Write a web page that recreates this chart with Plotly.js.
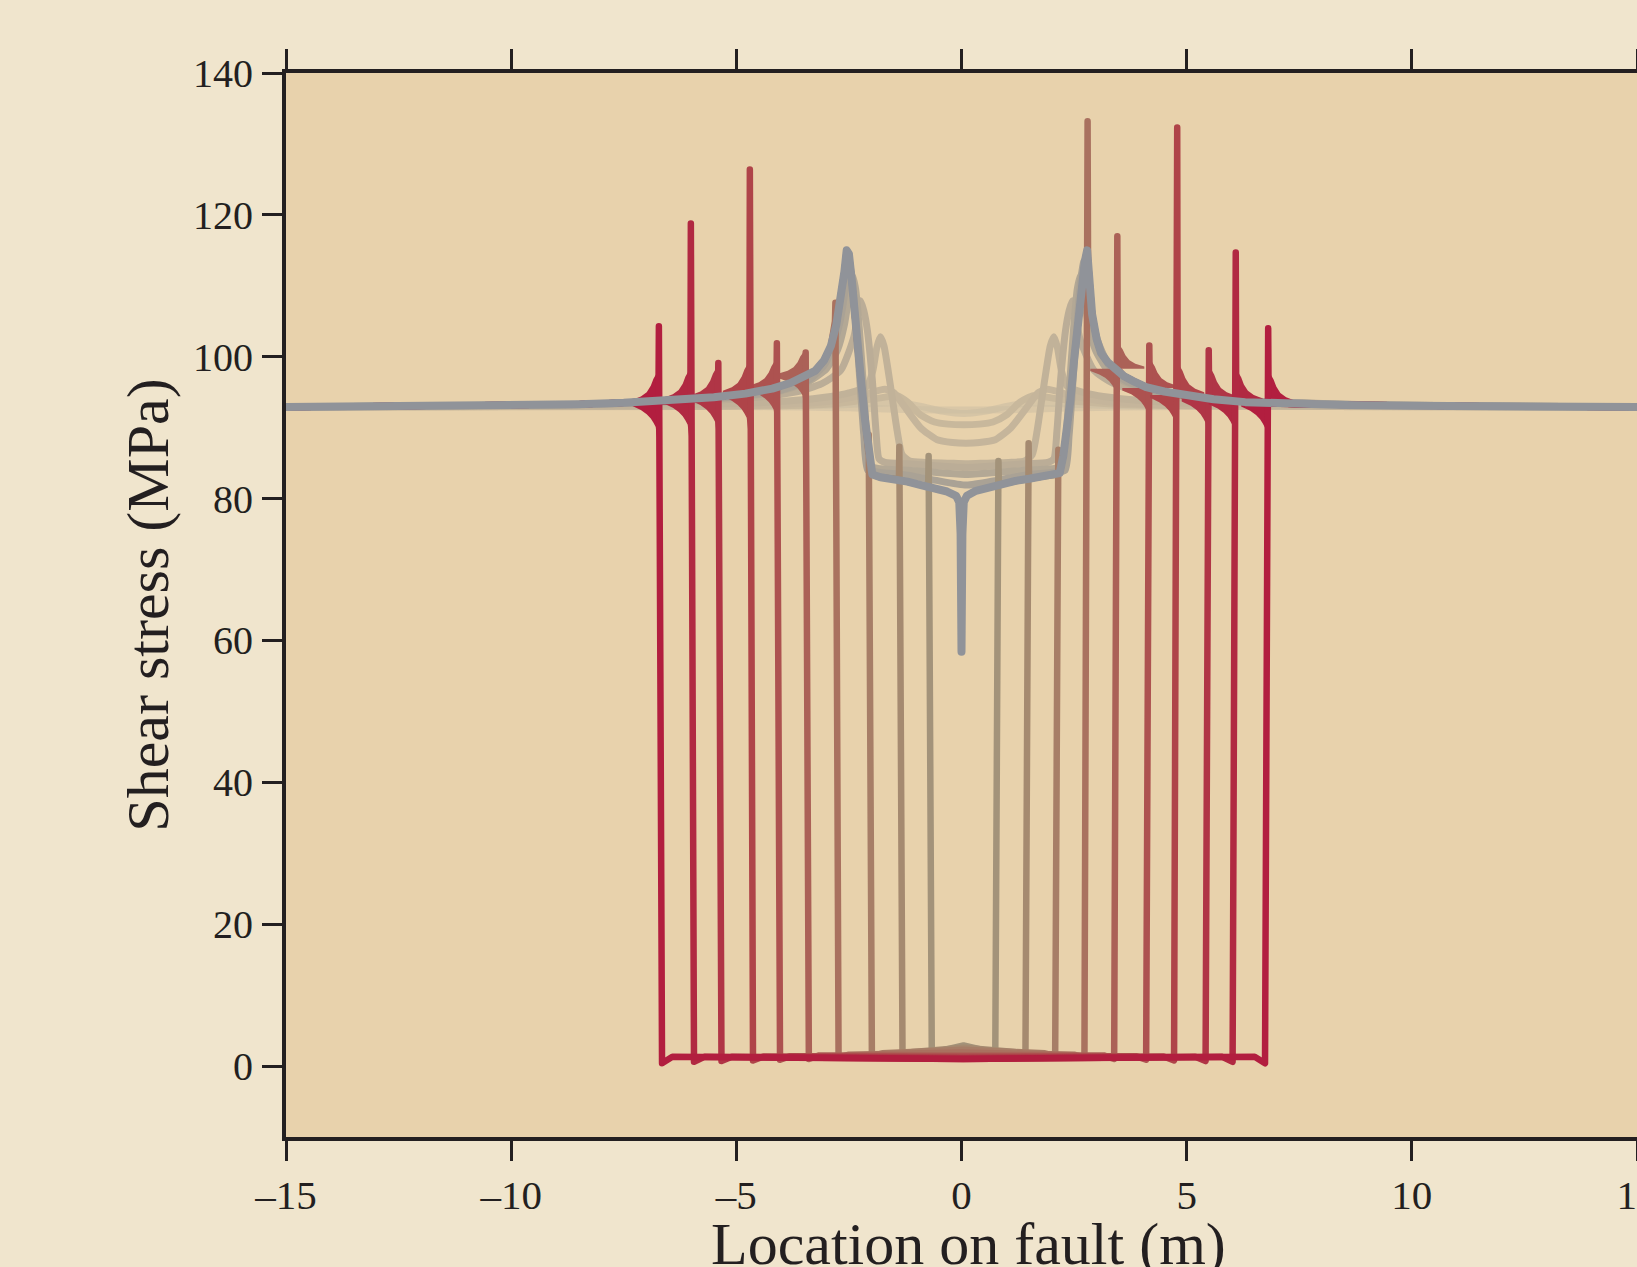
<!DOCTYPE html>
<html>
<head>
<meta charset="utf-8">
<script src="https://cdn.plot.ly/plotly-3.0.1.min.js"></script>
<style>
  html, body { margin: 0; padding: 0; background: #f0e5cd; }
  #chart { width: 1637px; height: 1267px; }
  path.js-line { stroke-linejoin: round; stroke-linecap: round; }
</style>
</head>
<body>
<div id="chart"></div>
<script>
// ---------------- data ----------------
const xTickVals = [-15, -10, -5, 0, 5, 10, 15];
const xTickText = ['\u201315', '\u201310', '\u20135', '0', '5', '10', '15'];
const yTickVals = [0, 20, 40, 60, 80, 100, 120, 140];
const xTitle = 'Location on fault (m)';
const yTitle = 'Shear stress (MPa)';

// final nucleation profile (thick grey curve)
const grayX = [-15, -12, -10, -8.5, -7.5, -6.5, -5.5, -4.8, -4.2, -3.8, -3.5, -3.25, -3.05, -2.9, -2.78, -2.68, -2.6, -2.55, -2.5, -2.44, -2.38, -2.3, -2.22, -2.14, -2.06, -1.98, -1.8, -1.5, -1.2, -0.9, -0.6, -0.32, -0.12, -0.05, -0.02, 0, 0.02, 0.05, 0.12, 0.32, 0.6, 0.9, 1.2, 1.5, 1.8, 2.05, 2.18, 2.26, 2.34, 2.42, 2.5, 2.58, 2.66, 2.74, 2.79, 2.84, 2.9, 3.0, 3.1, 3.25, 3.4, 3.6, 3.8, 4.1, 4.5, 4.9, 5.6, 6.3, 7.5, 8.5, 10, 12, 15];
const grayY = [92.9, 93.0, 93.1, 93.3, 93.5, 93.8, 94.3, 94.8, 95.5, 96.3, 97.1, 98.0, 99.5, 101.5, 104.5, 108, 112, 115, 114.5, 111, 106, 101, 96, 91, 86.5, 83.4, 83.0, 82.8, 82.4, 81.9, 81.5, 81.0, 80.4, 79.5, 75, 58.4, 75, 79.5, 80.4, 81.1, 81.6, 82.1, 82.5, 82.8, 83.1, 83.3, 83.6, 86, 89.5, 94, 99.5, 105, 109.5, 113.5, 115, 110.5, 106, 102.5, 100.5, 99.2, 98.3, 97.3, 96.6, 95.7, 95.1, 94.6, 94.0, 93.6, 93.3, 93.2, 93.1, 93.0, 92.9];

// earlier nucleation profiles (light tan curves)
const n1X = [-15, -8, -5, -3.5, -2.5, -1.5, -0.5, 0.5, 1.5, 2.5, 3.5, 5, 8, 15];
const n1Y = [92.9, 93.0, 93.0, 92.9, 92.8, 92.6, 92.5, 92.5, 92.6, 92.8, 92.9, 93.0, 93.0, 92.9];
const n2X = [-15, -8, -4, -2.8, -2, -1.4, -0.9, -0.4, 0.05, 0.5, 1, 1.5, 2.1, 2.9, 4, 8, 15];
const n2Y = [92.9, 93.0, 93.1, 93.2, 93.4, 93.5, 93.0, 92.3, 92.0, 92.3, 93.0, 93.5, 93.4, 93.2, 93.1, 93.0, 92.9];
const c1X = [-15, -6, -4, -3, -2.4, -1.8, -1.43, -1.2, -0.91, -0.6, -0.3, 0.05, 0.4, 0.7, 1.0, 1.3, 1.6, 2.0, 2.6, 3.5, 5, 8, 15];
const c1Y = [92.9, 93.0, 93.1, 93.3, 93.7, 94.2, 94.5, 93.6, 91.8, 90.8, 90.5, 90.4, 90.5, 90.8, 91.8, 93.6, 94.5, 94.2, 93.7, 93.3, 93.1, 93.0, 92.9];
const c2X = [-15, -8, -4.5, -3, -2.2, -1.7, -1.5, -1.28, -0.91, -0.54, -0.2, 0.1, 0.4, 0.75, 1.1, 1.48, 1.7, 1.9, 2.4, 3.2, 4.7, 8, 15];
const c2Y = [92.9, 93.0, 93.2, 93.7, 94.6, 95.4, 94.9, 93.1, 90.0, 88.3, 87.9, 87.8, 87.9, 88.3, 90.0, 93.1, 94.9, 95.4, 94.6, 93.7, 93.2, 93.0, 92.9];
const c3X = [-15, -8, -5, -3.8, -2.9, -2.5, -2.1, -1.97, -1.88, -1.8, -1.72, -1.64, -1.54, -1.43, -1.32, -1.15, -0.8, -0.3, 0.12, 0.55, 1.05, 1.4, 1.57, 1.68, 1.79, 1.89, 1.97, 2.05, 2.13, 2.22, 2.35, 2.75, 3.15, 4.05, 5.25, 8, 15];
const c3Y = [92.9, 93.1, 93.4, 93.8, 94.4, 94.9, 95.8, 98.0, 101.3, 102.8, 101.5, 98.5, 94.3, 89.6, 86.2, 85.3, 85.1, 85.0, 84.9, 85.0, 85.1, 85.3, 86.2, 89.6, 94.3, 98.5, 101.5, 102.8, 101.3, 98.0, 95.8, 94.9, 94.4, 93.8, 93.4, 93.1, 92.9];
const c4X = [-15, -9, -6.3, -4.7, -3.7, -3.1, -2.68, -2.39, -2.3, -2.24, -2.17, -2.09, -1.98, -1.9, -1.83, -1.7, -1.2, -0.5, 0.11, 0.7, 1.4, 1.92, 2.05, 2.12, 2.2, 2.31, 2.39, 2.46, 2.52, 2.64, 2.94, 3.38, 4.0, 5.0, 6.5, 9, 15];
const c4Y = [92.9, 93.2, 93.6, 94.2, 95.0, 96.2, 98.1, 102.8, 106.0, 107.9, 106.5, 103.7, 96.7, 89.6, 85.6, 85.1, 84.9, 84.6, 84.4, 84.6, 84.9, 85.1, 85.6, 89.6, 96.7, 103.7, 106.5, 107.9, 106.0, 102.3, 98.1, 96.2, 95.0, 94.2, 93.6, 93.2, 92.9];
const c5X = [-15, -9, -6.5, -5, -4, -3.4, -3.0, -2.75, -2.6, -2.5, -2.42, -2.35, -2.27, -2.18, -2.1, -2.02, -1.8, -1.2, -0.6, 0.11, 0.8, 1.4, 2.0, 2.24, 2.32, 2.4, 2.49, 2.57, 2.64, 2.72, 2.82, 2.97, 3.22, 3.62, 4.2, 5.2, 6.7, 9.2, 15];
const c5Y = [92.9, 93.2, 93.7, 94.3, 95.2, 96.5, 98.3, 101, 104.5, 108.5, 111.5, 109.5, 104, 96, 88.5, 84.6, 84.2, 84.0, 83.7, 83.4, 83.7, 84.0, 84.2, 84.6, 88.5, 96, 104, 109.5, 111.5, 108.5, 104.5, 101, 98.3, 96.5, 95.2, 94.3, 93.7, 93.2, 92.9];
const c6X = [-15, -9, -6.5, -5, -4, -3.4, -3.05, -2.82, -2.68, -2.58, -2.5, -2.43, -2.35, -2.26, -2.17, -2.08, -1.8, -1.2, -0.6, 0.11, 0.8, 1.4, 2.0, 2.3, 2.39, 2.48, 2.57, 2.65, 2.72, 2.8, 2.9, 3.04, 3.27, 3.62, 4.2, 5.2, 6.7, 9.2, 15];
const c6Y = [92.9, 93.2, 93.7, 94.4, 95.3, 96.7, 98.8, 102, 105.5, 109.5, 113.5, 111, 105, 97, 89, 84.0, 83.7, 83.3, 82.6, 81.9, 82.6, 83.3, 83.7, 84.0, 89, 97, 105, 111, 113.5, 109.5, 105.5, 102, 98.8, 96.7, 95.3, 94.4, 93.7, 93.2, 92.9];

// dynamic rupture snapshots (inner = early, outer = late)
const tipLeftX     = [-0.73, -1.38, -2.06, -2.80, -3.46, -4.10, -4.70, -5.40, -6.01, -6.72];
const tipLeftPeak  = [86.0, 87.3, 89.0, 107.6, 100.6, 101.9, 126.4, 99.1, 118.8, 104.3];
const tipLeftBase  = [81.7, 82.6, 86.5, 105.0, 97.3, 95.6, 94.8, 94.2, 93.8, 93.5];
const tipRightX    = [0.82, 1.49, 2.15, 2.80, 3.46, 4.17, 4.79, 5.49, 6.09, 6.81];
const tipRightPeak = [85.3, 87.8, 86.9, 133.2, 117.0, 101.6, 132.3, 100.9, 114.7, 104.0];
const tipRightBase = [82.0, 82.8, 83.5, 114.0, 98.3, 95.6, 94.6, 94.1, 93.7, 93.4];
const interiorEdge     = [1.8, 1.6, 1.4, 1.2, 1.0, 0.9, 0.8, 0.7, 0.6, 0.4];
const interiorShoulder = [2.2, 2.0, 1.8, 1.6, 1.5, 1.4, 1.35, 1.3, 1.3, 1.3];
const interiorCenter   = [2.9, 2.6, 2.3, 1.9, 1.6, 1.4, 1.2, 1.1, 1.0, 1.0];
const snapColors = ['#a3937a', '#a58a70', '#a77e67', '#a9715f', '#ab6157', '#ad5250', '#af4449', '#b03546', '#b12942', '#b21e3f'];

// shape of the stress wings next to each rupture tip (distance, rise, fall)
const wingD  = [0.6, 0.4, 0.27, 0.18, 0.12, 0.07, 0.03, 0.0];
const wingUp = [0.4, 0.9, 1.5, 2.4, 3.4, 4.0, 4.4, 4.5];
const wingDn = [0.4, 1.0, 1.6, 2.2, 2.8, 3.4, 5.6, 6.0];
const wingScale = [0, 0, 0, 0, 0.8, 0.9, 1, 1, 1, 1];

// ---------------- build traces ----------------
const traces = [];
function addLine(x, y, color, width, shape) {
  traces.push({type: 'scatter', mode: 'lines', x: x, y: y,
    line: {color: color, width: width, shape: shape || 'linear', smoothing: 0.6},
    hoverinfo: 'skip', showlegend: false});
}
function addWing(xTip, dir, base, amp, env, color) {
  const xs = [], ys = [];
  for (let j = 0; j < wingD.length; j++) { xs.push(xTip + dir * wingD[j]); ys.push(base + amp * env[j]); }
  for (let j = wingD.length - 1; j >= 0; j--) { xs.push(xTip + dir * wingD[j]); ys.push(base); }
  traces.push({type: 'scatter', mode: 'lines', x: xs, y: ys, fill: 'toself',
    fillcolor: color, line: {width: 0, color: color}, hoverinfo: 'skip', showlegend: false});
}

addLine(n1X, n1Y, 'rgba(204,190,164,0.55)', 7, 'spline');
addLine(n2X, n2Y, 'rgba(202,188,161,0.6)', 7, 'spline');
addLine(c1X, c1Y, '#c8b89c', 7, 'spline');
addLine(c2X, c2Y, '#c5b59b', 7, 'spline');
addLine(c3X, c3Y, '#c1b299', 7, 'spline');
addLine(c4X, c4Y, '#bbad97', 7, 'spline');
addLine(c5X, c5Y, '#b3a895', 7, 'spline');
addLine(c6X, c6Y, '#aaa295', 7, 'spline');

for (let k = 0; k < tipLeftX.length; k++) {
  const L = tipLeftX[k], R = tipRightX[k], col = snapColors[k], s = wingScale[k];
  if (s > 0) {
    addWing(L, -1, tipLeftBase[k], s, wingUp, col);
    addWing(L, -1, tipLeftBase[k], -s, wingDn, col);
    addWing(R, 1, tipRightBase[k], s, wingUp, col);
    addWing(R, -1, tipRightBase[k], -s, wingDn, col);
  }
  const xs = [], ys = [];
  for (let i = 0; i < grayX.length; i++) if (grayX[i] < L - 0.03) { xs.push(grayX[i]); ys.push(grayY[i]); }
  xs.push(L - 0.01, L, L + 0.07, L + 0.3, (L + R) / 2, R - 0.3, R - 0.07, R, R + 0.01);
  ys.push(tipLeftBase[k], tipLeftPeak[k], interiorEdge[k], interiorShoulder[k], interiorCenter[k],
          interiorShoulder[k], interiorEdge[k], tipRightPeak[k], tipRightBase[k]);
  for (let i = 0; i < grayX.length; i++) if (grayX[i] > R + 0.03) { xs.push(grayX[i]); ys.push(grayY[i]); }
  addLine(xs, ys, col, 6.5);
}

addLine(grayX, grayY, '#909399', 8);

// ---------------- layout ----------------
const ink = '#231f20';
const serif = 'Liberation Serif, Times New Roman, serif';
const layout = {
  width: 1637, height: 1267,
  paper_bgcolor: '#f0e5cd', plot_bgcolor: '#e8d2ac',
  margin: {l: 286, r: 0, t: 73, b: 130, pad: 0},
  showlegend: false,
  xaxis: {
    range: [-15, 15], tickmode: 'array', tickvals: xTickVals, ticktext: xTickText,
    ticks: 'outside', ticklen: 20, tickwidth: 3, tickcolor: ink,
    showline: true, linewidth: 4, linecolor: ink, mirror: 'ticks',
    showgrid: false, zeroline: false, automargin: false, ticklabeloverflow: 'allow',
    tickfont: {family: serif, size: 41, color: ink}, ticklabelstandoff: -1
  },
  yaxis: {
    range: [-10, 140], tickmode: 'array', tickvals: yTickVals,
    ticks: 'outside', ticklen: 20, tickwidth: 3, tickcolor: ink,
    showline: true, linewidth: 4, linecolor: ink, mirror: 'ticks',
    showgrid: false, zeroline: false, automargin: false,
    tickfont: {family: serif, size: 40, color: ink}, ticklabelstandoff: 1,
    title: {text: yTitle, font: {family: serif, size: 60, color: ink}, standoff: 6}
  },
  annotations: [{
    text: xTitle, xref: 'paper', yref: 'paper', x: 0.505, y: -0.068,
    xanchor: 'center', yanchor: 'top', showarrow: false,
    font: {family: serif, size: 60, color: ink}
  }]
};

Plotly.newPlot('chart', traces, layout, {staticPlot: true, displayModeBar: false});
</script>
</body>
</html>
